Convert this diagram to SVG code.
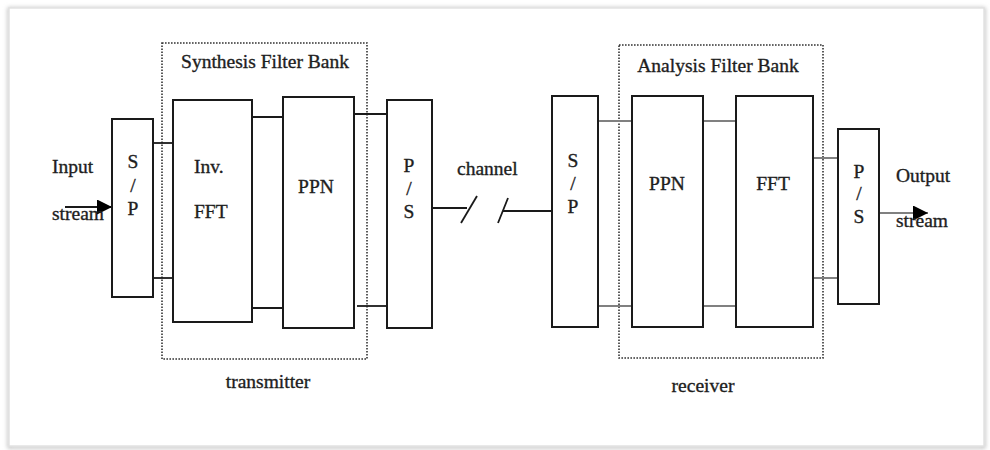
<svg xmlns="http://www.w3.org/2000/svg" width="990" height="450" viewBox="0 0 990 450">
<style>
.t{font-family:"Liberation Serif","Times New Roman",serif;font-size:19.5px;fill:#1e1e1e;stroke:#1e1e1e;stroke-width:0.35}
.m{text-anchor:middle}
.b{fill:#fff;stroke:#1a1a1a;stroke-width:2}
.d{fill:none;stroke:#333;stroke-width:1.6;stroke-dasharray:1.6 1.4}
.c{stroke:#1a1a1a;stroke-width:1.8;fill:none}
.g{stroke:#808080;stroke-width:2;fill:none}
</style>
<defs>
<marker id="ah" viewBox="0 0 10 10" refX="10" refY="5" markerWidth="15" markerHeight="15" markerUnits="userSpaceOnUse" orient="auto">
<path d="M0,0 L10,5 L0,10 z" fill="#000"/>
</marker>
<filter id="sh" x="-5%" y="-5%" width="110%" height="110%"><feGaussianBlur stdDeviation="2"/></filter>
</defs>
<rect x="0" y="0" width="990" height="450" fill="#fff"/>
<rect x="9" y="9" width="975" height="438" fill="none" stroke="#bbb" stroke-width="3" filter="url(#sh)"/>
<rect x="9" y="8" width="975" height="438" fill="#fff" stroke="#e2e2e2" stroke-width="1.5"/>

<g id="synthesis-filter-bank">
<rect class="d" x="162" y="43" width="205" height="316"/>
<text class="t m" x="265" y="68">Synthesis Filter Bank</text>
</g>
<g id="analysis-filter-bank">
<rect class="d" x="619" y="45" width="204" height="313"/>
<text class="t m" x="718" y="72">Analysis Filter Bank</text>
</g>
<g id="transmitter-label"><text class="t m" x="268" y="388">transmitter</text></g>
<g id="receiver-label"><text class="t m" x="703" y="392">receiver</text></g>

<g id="connectors">
<line class="c" x1="65" y1="207" x2="112" y2="207" marker-end="url(#ah)"/>
<line class="c" x1="153" y1="143" x2="175" y2="143"/>
<line class="c" x1="153" y1="278" x2="175" y2="278"/>
<line class="c" x1="252" y1="117" x2="285" y2="117"/>
<line class="c" x1="249" y1="308" x2="283" y2="308"/>
<line class="c" x1="354" y1="114" x2="387" y2="114"/>
<line class="c" x1="357" y1="306" x2="389" y2="306"/>
<line class="c" x1="432" y1="208" x2="467" y2="208"/>
<line class="c" x1="461" y1="223" x2="477" y2="196"/>
<line class="c" x1="498" y1="223" x2="508" y2="198"/>
<line class="c" x1="503" y1="211" x2="552" y2="211"/>
<line class="g" x1="598" y1="121" x2="632" y2="121"/>
<line class="g" x1="598" y1="306" x2="632" y2="306"/>
<line class="g" x1="703" y1="121" x2="736" y2="121"/>
<line class="g" x1="703" y1="306" x2="736" y2="306"/>
<line class="g" x1="813" y1="158" x2="838" y2="158"/>
<line class="g" x1="813" y1="278" x2="838" y2="278"/>
<line class="g" x1="879" y1="213" x2="928" y2="213" marker-end="url(#ah)"/>
</g>

<g id="input-label">
<text class="t" x="52" y="173">Input</text>
<text class="t" x="52" y="220">stream</text>
</g>
<g id="sp-tx">
<rect class="b" x="112" y="119" width="41" height="178"/>
<text class="t m" x="133" y="168">S</text>
<text class="t m" x="133" y="192" font-size="15">/</text>
<text class="t m" x="133" y="215">P</text>
</g>
<g id="inv-fft">
<rect class="b" x="173" y="100" width="79" height="222"/>
<text class="t" x="194" y="173">Inv.</text>
<text class="t" x="194" y="218">FFT</text>
</g>
<g id="ppn-tx">
<rect class="b" x="283" y="97" width="71" height="231"/>
<text class="t m" x="316" y="193">PPN</text>
</g>
<g id="ps-tx">
<rect class="b" x="387" y="100" width="45" height="228"/>
<text class="t m" x="409" y="172">P</text>
<text class="t m" x="409" y="195" font-size="15">/</text>
<text class="t m" x="409" y="218">S</text>
</g>
<g id="channel-label"><text class="t" x="457" y="175">channel</text></g>
<g id="sp-rx">
<rect class="b" x="552" y="96" width="46" height="231"/>
<text class="t m" x="573" y="167">S</text>
<text class="t m" x="573" y="190" font-size="15">/</text>
<text class="t m" x="573" y="213">P</text>
</g>
<g id="ppn-rx">
<rect class="b" x="632" y="96" width="71" height="231"/>
<text class="t m" x="667" y="190">PPN</text>
</g>
<g id="fft-rx">
<rect class="b" x="736" y="96" width="77" height="231"/>
<text class="t m" x="773" y="190">FFT</text>
</g>
<g id="ps-rx">
<rect class="b" x="838" y="129" width="41" height="175"/>
<text class="t m" x="859" y="178">P</text>
<text class="t m" x="859" y="200" font-size="15">/</text>
<text class="t m" x="859" y="223">S</text>
</g>
<g id="output-label">
<text class="t" x="896" y="182">Output</text>
<text class="t" x="896" y="227">stream</text>
</g>
</svg>
